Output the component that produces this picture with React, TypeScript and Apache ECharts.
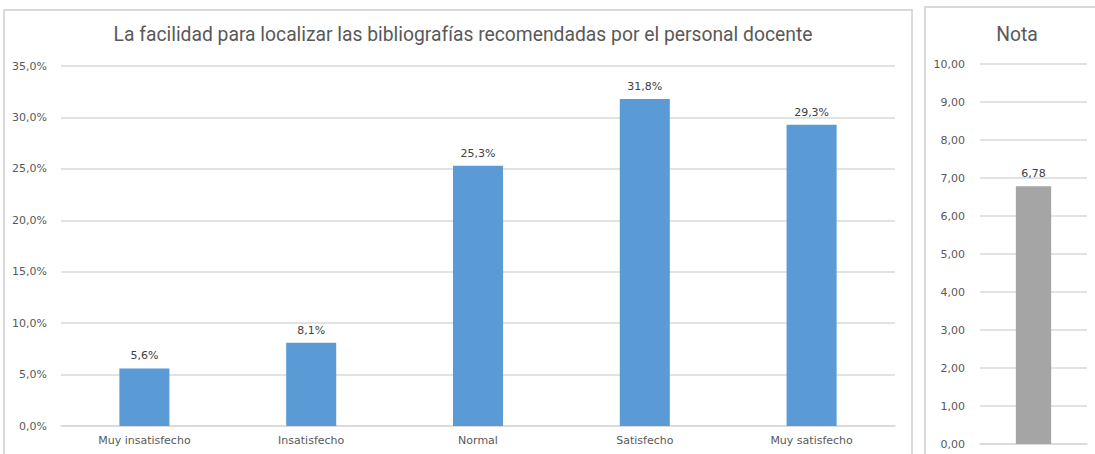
import React, { useEffect, useRef } from "react";
import * as echarts from "echarts";

const categories = ["Muy insatisfecho", "Insatisfecho", "Normal", "Satisfecho", "Muy satisfecho"];
const percentages = [5.6, 8.1, 25.3, 31.8, 29.3];
const notaCategories = ["Nota"];
const notaValues = [6.78];
const mainTitle = "La facilidad para localizar las bibliografías recomendadas por el personal docente";
const notaTitle = "Nota";

const TITLE_FONT = "Roboto, 'Liberation Sans', sans-serif";
const FONT = "'DejaVu Sans', sans-serif";
const GRID = "#d9d9d9";
const TXT = "#595959";

const pct = (v: number) => v.toFixed(1).replace(".", ",") + "%";
const dec2 = (v: number) => v.toFixed(2).replace(".", ",");

export default function App() {
  const ref = useRef<HTMLDivElement>(null);
  useEffect(() => {
    if (!ref.current) return;
    const chart = echarts.init(ref.current, null, { renderer: "svg" });
    chart.setOption({
      animation: false,
      backgroundColor: "#ffffff",
      textStyle: { fontFamily: FONT },
      title: [
        {
          text: mainTitle,
          left: 458,
          top: 20,
          textAlign: "center",
          textStyle: { fontFamily: TITLE_FONT, fontSize: 19.3, fontWeight: "normal", color: TXT },
        },
        {
          text: notaTitle,
          left: 1012,
          top: 20,
          textAlign: "center",
          textStyle: { fontFamily: TITLE_FONT, fontSize: 19.3, fontWeight: "normal", color: TXT },
        },
      ],
      graphic: [
        {
          type: "rect",
          shape: { x: 4, y: 10, width: 908, height: 470 },
          style: { fill: "none", stroke: GRID, lineWidth: 2 },
          silent: true,
        },
        {
          type: "rect",
          shape: { x: 925, y: 7, width: 200, height: 470 },
          style: { fill: "none", stroke: GRID, lineWidth: 2 },
          silent: true,
        },
      ],
      grid: [
        { left: 61, right: 200, top: 66, bottom: 28, containLabel: false },
        { left: 980, right: 8, top: 64, bottom: 10, containLabel: false },
      ],
      xAxis: [
        {
          type: "category",
          gridIndex: 0,
          data: categories,
          axisLine: { lineStyle: { color: GRID, width: 1.5 } },
          axisTick: { show: false },
          axisLabel: { color: TXT, fontSize: 11, margin: 9, fontFamily: FONT },
        },
        {
          type: "category",
          gridIndex: 1,
          data: notaCategories,
          axisLine: { lineStyle: { color: GRID, width: 1.5 } },
          axisTick: { show: false },
          axisLabel: { show: false },
        },
      ],
      yAxis: [
        {
          type: "value",
          gridIndex: 0,
          min: 0,
          max: 35,
          interval: 5,
          axisLine: { show: false },
          axisTick: { show: false },
          splitLine: { lineStyle: { color: GRID, width: 1.5 } },
          axisLabel: { color: TXT, fontSize: 11, margin: 14, formatter: pct, fontFamily: FONT },
        },
        {
          type: "value",
          gridIndex: 1,
          min: 0,
          max: 10,
          interval: 1,
          axisLine: { show: false },
          axisTick: { show: false },
          splitLine: { lineStyle: { color: GRID, width: 1.5 } },
          axisLabel: { color: TXT, fontSize: 11, margin: 15, formatter: dec2, fontFamily: FONT },
        },
      ],
      series: [
        {
          type: "bar",
          xAxisIndex: 0,
          yAxisIndex: 0,
          data: percentages,
          barWidth: "30%",
          itemStyle: { color: "#5B9BD5" },
          label: {
            show: true,
            position: "top",
            distance: 7,
            color: "#404040",
            fontSize: 11,
            fontFamily: FONT,
            formatter: (p: any) => pct(p.value),
          },
        },
        {
          type: "bar",
          xAxisIndex: 1,
          yAxisIndex: 1,
          data: notaValues,
          barWidth: "33%",
          itemStyle: { color: "#A5A5A5" },
          label: {
            show: true,
            position: "top",
            distance: 7,
            color: "#404040",
            fontSize: 11,
            fontFamily: FONT,
            formatter: (p: any) => dec2(p.value),
          },
        },
      ],
    });
    return () => chart.dispose();
  }, []);
  return (
    <div
      ref={ref}
      style={{ position: "absolute", left: 0, top: 0, width: 1095, height: 454, background: "#fff" }}
    />
  );
}
